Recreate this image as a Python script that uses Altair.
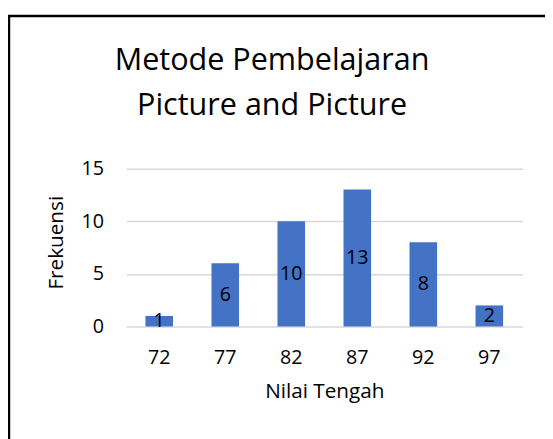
import altair as alt
import pandas as pd

categories = ["72", "77", "82", "87", "92", "97"]
values = [1, 6, 10, 13, 8, 2]
y_ticks = [0, 5, 10, 15]
title_lines = ["Metode Pembelajaran", "Picture and Picture"]

df = pd.DataFrame({"cat": categories, "val": values})
one = pd.DataFrame({"k": [0]})

FONT = "Open Sans"
BLUE = "#4472C4"
GRID = "#d9d9d9"

base = alt.Chart(df)
single = alt.Chart(one)

bars = base.mark_bar(color=BLUE, size=28).encode(
    x=alt.X("cat:N", sort=categories,
            scale=alt.Scale(paddingInner=0.58, paddingOuter=0.29),
            axis=alt.Axis(title="Nilai Tengah", labelAngle=0, ticks=False, domain=False,
                          labelFontSize=20, labelPadding=22, labelColor="#000",
                          labelFont=FONT, titleFont=FONT, titleFontSize=21,
                          titleFontWeight="normal", titleColor="#000", titlePadding=13)),
    y=alt.Y("val:Q", scale=alt.Scale(domain=[0, 15]),
            axis=alt.Axis(title="Frekuensi", values=y_ticks, ticks=False, domain=False,
                          grid=True, gridColor=GRID, gridWidth=1.5,
                          labelFontSize=20, labelPadding=23, labelColor="#000",
                          labelFont=FONT, titleFont=FONT, titleFontSize=21,
                          titleFontWeight="normal", titleColor="#000", titlePadding=15)),
)

labels = base.transform_calculate(mid="datum.val / 2").mark_text(
    font=FONT, fontSize=20, color="#000", baseline="middle"
).encode(
    x=alt.X("cat:N", sort=categories),
    y=alt.Y("mid:Q"),
    text=alt.Text("val:Q"),
)

title1 = single.mark_text(
    font=FONT, fontSize=31, color="#000", baseline="alphabetic", align="center",
    text=title_lines[0],
).encode(x=alt.value(148), y=alt.value(-89))
title2 = single.mark_text(
    font=FONT, fontSize=31, color="#000", baseline="alphabetic", align="center",
    text=title_lines[1],
).encode(x=alt.value(148), y=alt.value(-44))

border_v = single.mark_rule(color="#000", strokeWidth=2.5).encode(
    x=alt.value(-119), y=alt.value(-145), y2=alt.value(290)
)
border_h = single.mark_rule(color="#000", strokeWidth=2.5).encode(
    x=alt.value(-120), x2=alt.value(430), y=alt.value(-144)
)

chart = alt.layer(bars, labels, title1, title2, border_v, border_h).properties(
    width=402, height=171,
    background="white",
    autosize=alt.AutoSizeParams(type="none"),
    padding={"left": 120, "top": 149, "right": 23, "bottom": 111},
).configure_view(stroke="transparent", strokeWidth=0)

chart.save("out.html", embed_options={"renderer": "svg", "actions": False})
